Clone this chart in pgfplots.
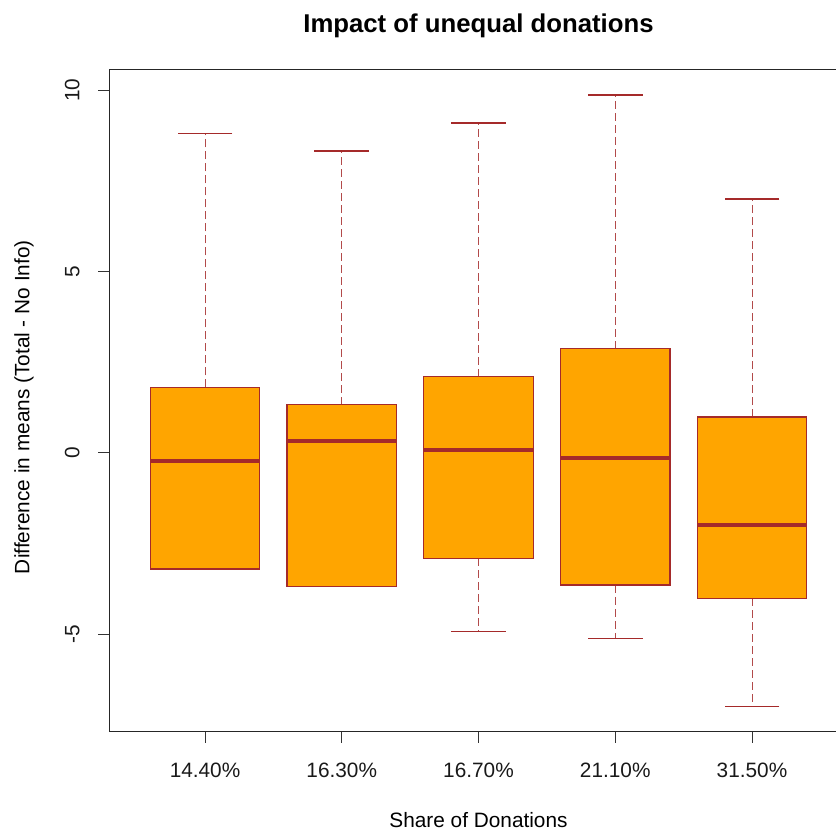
\documentclass[border=0pt]{standalone}
\usepackage{fontspec}
\setmainfont{Liberation Sans}
\usepackage{pgfplots}
\pgfplotsset{compat=1.18}
\usepgfplotslibrary{statistics}
\definecolor{rorange}{RGB}{255,165,0}
\definecolor{rbrown}{RGB}{165,42,42}
\begin{document}
\begin{tikzpicture}[x=1pt,y=1pt]
\begin{axis}[
  at={(81.98pt,75.2pt)}, anchor=south west,
  scale only axis, width=553.8pt, height=496.8pt,
  xmin=0.3, xmax=5.7, ymin=-7.684, ymax=10.57,
  axis line style={black!85, line width=0.8pt},
  tick pos=left, tick align=outside, major tick length=8.25pt,
  tick style={black!80, line width=0.7pt},
  xtick={1,2,3,4,5},
  xticklabels={14.40\%,16.30\%,16.70\%,21.10\%,31.50\%},
  ytick={-5,0,5,10}, yticklabels={-5,0,5,10},
  ticklabel style={font=\fontsize{15.6}{18}\selectfont, text=black!90},
  xticklabel style={anchor=base, yshift=-26.25pt},
  yticklabel style={xshift=-14.25pt, rotate=90, anchor=base},
  title={Impact of unequal donations},
  title style={at={(0.5,1)}, anchor=base, yshift=21.5pt, font=\bfseries\fontsize{19.3}{23}\selectfont},
  xlabel={Share of Donations},
  every axis x label/.style={at={(axis description cs:0.5,0)}, anchor=base, yshift=-72.2pt, font=\fontsize{15.6}{18}\selectfont},
  ylabel={Difference in means (Total - No Info)},
  every axis y label/.style={at={(axis description cs:0,0.49)}, xshift=-60pt, rotate=90, anchor=base, font=\fontsize{15.6}{18}\selectfont},
  boxplot/draw direction=y,
  boxplot/every box/.style={draw=rbrown, fill=rorange, line width=0.9pt},
  boxplot/every median/.style={draw=rbrown, line width=3pt},
  boxplot/every whisker/.style={draw=rbrown!85, line width=0.7pt, dash pattern=on 6pt off 3pt},
  boxplot/box extend=0.8,
  boxplot/whisker extend=0,
]
\addplot[boxplot prepared={draw position=1, lower whisker=-3.199, lower quartile=-3.199, median=-0.215, upper quartile=1.808, upper whisker=8.796}] coordinates {};
\addplot[boxplot prepared={draw position=2, lower whisker=-3.676, lower quartile=-3.676, median=0.336, upper quartile=1.328, upper whisker=8.319}] coordinates {};
\addplot[boxplot prepared={draw position=3, lower whisker=-4.927, lower quartile=-2.904, median=0.080, upper quartile=2.100, upper whisker=9.091}] coordinates {};
\addplot[boxplot prepared={draw position=4, lower whisker=-5.109, lower quartile=-3.640, median=-0.149, upper quartile=2.871, upper whisker=9.862}] coordinates {};
\addplot[boxplot prepared={draw position=5, lower whisker=-6.994, lower quartile=-4.007, median=-1.978, upper quartile=0.989, upper whisker=6.996}] coordinates {};
% whisker caps
\addplot[only marks, mark=-, mark size=20.51pt, mark options={solid, draw=rbrown, line width=0.9pt}]
  coordinates {(1,8.796) (2,8.319) (3,9.091) (4,9.862) (5,6.996) (3,-4.927) (4,-5.109) (5,-6.994)};
\end{axis}
\pgfresetboundingbox
\path (0,0) rectangle (627pt,624pt);
\end{tikzpicture}
\end{document}
